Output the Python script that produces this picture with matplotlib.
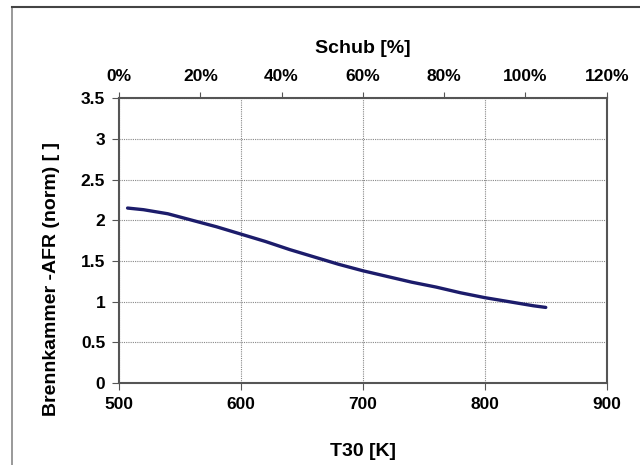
import numpy as np
import matplotlib.pyplot as plt
from matplotlib.ticker import MultipleLocator, FuncFormatter

plt.rcParams['font.family'] = ['Liberation Sans', 'DejaVu Sans']
plt.rcParams['font.weight'] = 'bold'

# combustor AFR (normalised) over compressor exit temperature
t30 = [507, 520, 540, 560, 580, 600, 620, 640, 660, 680, 700,
       720, 740, 760, 780, 800, 820, 840, 850]
afr = [2.15, 2.13, 2.08, 2.00, 1.92, 1.83, 1.74, 1.64, 1.55, 1.46, 1.38,
       1.31, 1.24, 1.18, 1.11, 1.05, 1.00, 0.95, 0.93]

schub_ticks = [0, 20, 40, 60, 80, 100, 120]

fig = plt.figure(figsize=(6.4, 4.65), dpi=100)
ax = fig.add_axes([0.186, 0.176, 0.762, 0.613])

ax.plot(t30, afr, color='#1c1c6b', lw=2.4, solid_capstyle='round')

ax.set_xlim(500, 900)
ax.set_ylim(0, 3.5)
ax.xaxis.set_major_locator(MultipleLocator(100))
ax.yaxis.set_major_locator(MultipleLocator(0.5))
ax.yaxis.set_major_formatter(FuncFormatter(lambda v, p: f'{v:g}'))
ax.grid(True, color='#888888', lw=0.8, ls=(0, (1, 1)))

for s in ax.spines.values():
    s.set_color('#555555')
    s.set_linewidth(1.5)
ax.tick_params(labelsize=12.5, direction='out', length=5, color='#555555', pad=5)
ax.set_xlabel('T30 [K]', fontsize=14, fontweight='bold', labelpad=22)
ax.set_ylabel('Brennkammer -AFR (norm) [ ]', fontsize=14, fontweight='bold')
ax.yaxis.set_label_coords(-0.122, 0.365)

# thrust scale on top
ax2 = ax.twiny()
ax2.set_xlim(0, 120)
ax2.set_xticks(schub_ticks)
ax2.set_xticklabels([f'{v}%' for v in schub_ticks])
ax2.tick_params(labelsize=12.5, direction='out', length=4, color='#555555', pad=6)
ax2.set_xlabel('Schub [%]', fontsize=14, fontweight='bold', labelpad=12)
for s in ax2.spines.values():
    s.set_visible(False)

# outer frame line along top and left
fig.add_artist(plt.Line2D([0.018, 0.018], [0, 0.985], color='#888888', lw=1.2))
fig.add_artist(plt.Line2D([0.018, 1.0], [0.985, 0.985], color='#444444', lw=1.5))

fig.savefig('out.png', dpi=100)
